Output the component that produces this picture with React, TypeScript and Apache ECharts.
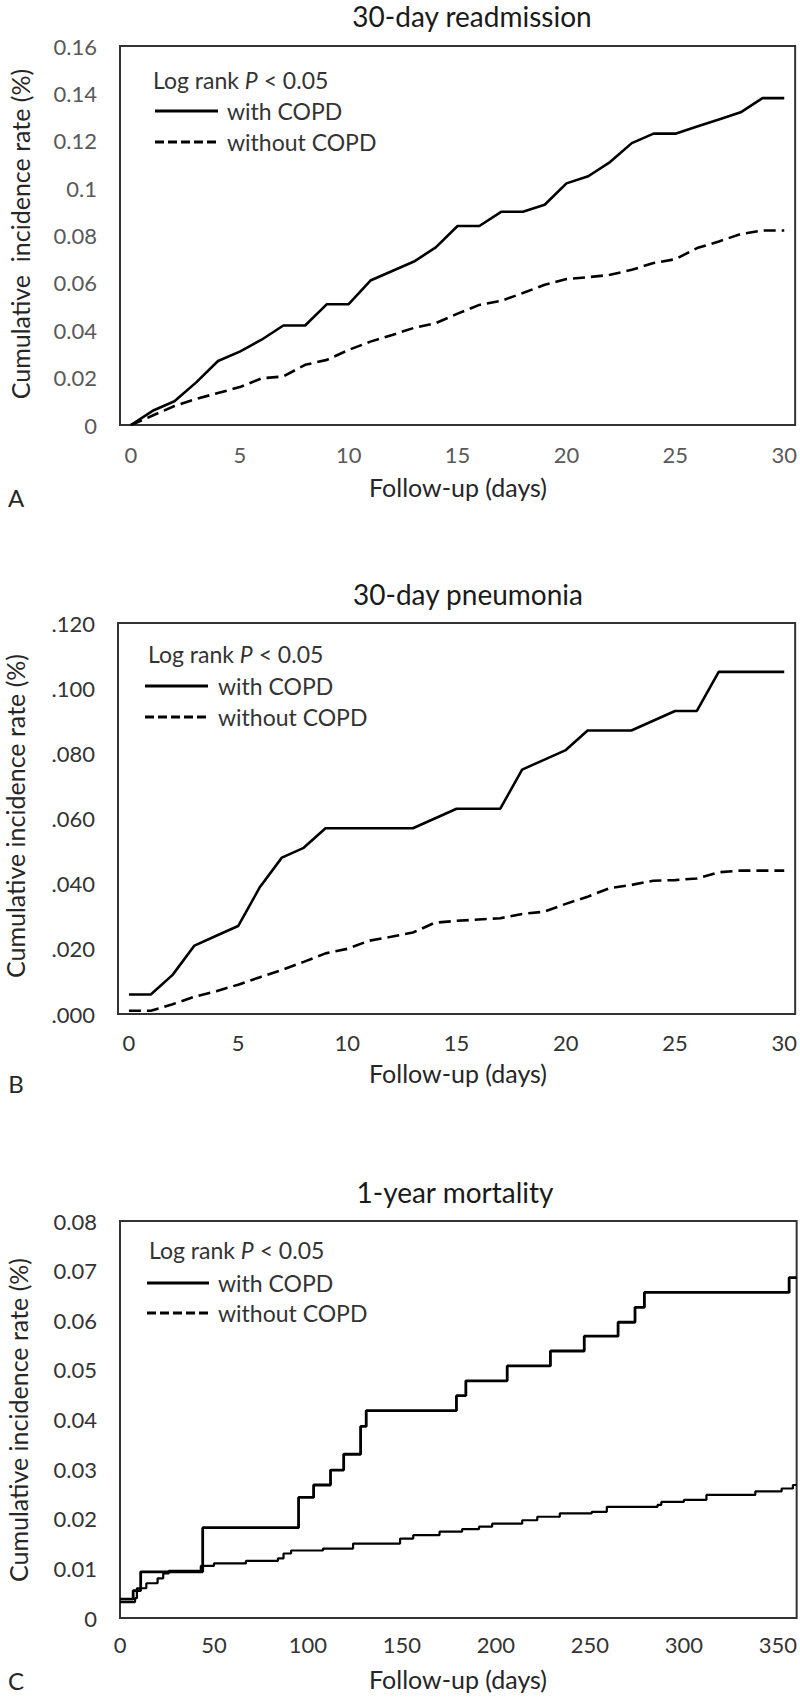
import React, { useEffect, useRef } from "react";
import * as echarts from "echarts";

// ---------- Panel A: 30-day readmission ----------
const daysA = [0, 1, 2, 3, 4, 5, 6, 7, 8, 9, 10, 11, 12, 13, 14, 15, 16, 17, 18, 19, 20, 21, 22, 23, 24, 25, 26, 27, 28, 29, 30];
const withCopdA = [0, 0.006, 0.01, 0.018, 0.027, 0.031, 0.036, 0.042, 0.042, 0.051, 0.051, 0.061, 0.065, 0.069, 0.075, 0.084, 0.084, 0.09, 0.09, 0.093, 0.102, 0.105, 0.111, 0.119, 0.123, 0.123, 0.126, 0.129, 0.132, 0.138, 0.138];
const withoutCopdA = [0, 0.004, 0.008, 0.011, 0.0135, 0.016, 0.0197, 0.0205, 0.0254, 0.0275, 0.0317, 0.0352, 0.038, 0.041, 0.043, 0.047, 0.0507, 0.0524, 0.0557, 0.0592, 0.0616, 0.0624, 0.0634, 0.0655, 0.0684, 0.07, 0.0747, 0.0775, 0.0806, 0.0821, 0.0821];
const xTicksA = [0, 5, 10, 15, 20, 25, 30];

// ---------- Panel B: 30-day pneumonia ----------
const daysB = [0, 1, 2, 3, 4, 5, 6, 7, 8, 9, 10, 11, 12, 13, 14, 15, 16, 17, 18, 19, 20, 21, 22, 23, 24, 25, 26, 27, 28, 29, 30];
const withCopdB = [0.006, 0.006, 0.012, 0.021, 0.024, 0.027, 0.039, 0.048, 0.051, 0.057, 0.057, 0.057, 0.057, 0.057, 0.06, 0.063, 0.063, 0.063, 0.075, 0.078, 0.081, 0.087, 0.087, 0.087, 0.09, 0.093, 0.093, 0.105, 0.105, 0.105, 0.105];
const withoutCopdB = [0.001, 0.001, 0.003, 0.0053, 0.007, 0.009, 0.0113, 0.0135, 0.016, 0.0186, 0.02, 0.0225, 0.0237, 0.025, 0.028, 0.0286, 0.029, 0.0294, 0.0307, 0.0314, 0.0338, 0.036, 0.0386, 0.0396, 0.0409, 0.0411, 0.0416, 0.0435, 0.044, 0.044, 0.044];
const xTicksB = [0, 5, 10, 15, 20, 25, 30];

// ---------- Panel C: 1-year mortality (step curves) ----------
const withCopdDaysC = [0, 7, 11, 44, 95, 103, 112, 119, 128, 131, 179, 184, 206, 229, 247, 265, 274, 279, 356, 360];
const withCopdC = [0.0038, 0.0055, 0.0093, 0.0182, 0.0243, 0.0268, 0.0298, 0.033, 0.0386, 0.0418, 0.0448, 0.0478, 0.0508, 0.0538, 0.0568, 0.0596, 0.0626, 0.0656, 0.0686, 0.0686];
const withoutCopdDaysC = [0, 8, 9, 14, 20, 23, 26, 43, 50, 67, 84, 87, 91, 108, 124, 149, 156, 170, 182, 191, 198, 214, 222, 234, 251, 259, 286, 288, 300, 312, 338, 352, 358, 360];
const withoutCopdC = [0.0032, 0.004, 0.006, 0.007, 0.008, 0.009, 0.0095, 0.0105, 0.011, 0.0115, 0.012, 0.013, 0.0136, 0.014, 0.015, 0.016, 0.0167, 0.0174, 0.0179, 0.0184, 0.019, 0.0197, 0.0204, 0.0211, 0.0214, 0.0224, 0.0228, 0.0234, 0.0238, 0.0248, 0.0255, 0.0261, 0.0268, 0.0268];
const xTicksC = [0, 50, 100, 150, 200, 250, 300, 350];

const titles = ["30-day readmission", "30-day pneumonia", "1-year mortality"];
const yNames = ["Cumulative  incidence rate (%)", "Cumulative incidence rate (%)", "Cumulative incidence rate (%)"];
const xName = "Follow-up (days)";
const panelLetters = ["A", "B", "C"];
const legendTitle = "Log rank {i|P} < 0.05";
const legendNames = ["with COPD", "without COPD"];

const FONT = "Lato, 'Open Sans', sans-serif";

const pair = (xs: number[], ys: number[]) => xs.map((x, i) => [x, ys[i]]);

export default function App() {
  const ref = useRef<HTMLDivElement>(null);

  useEffect(() => {
    const chart = echarts.init(ref.current!, null, { renderer: "svg" });

    const grids = [
      { left: 120, top: 46, width: 676, height: 379 },
      { left: 118, top: 623, width: 680, height: 391 },
      { left: 120, top: 1221, width: 678, height: 397 },
    ];

    const axisCommon = {
      axisLine: { show: false },
      axisTick: { show: false },
      splitLine: { show: false },
    };

    const tickColor = ["#595959", "#333333", "#333333"];

    const xAxes = [
      { min: -0.5, max: 30.5, ticks: xTicksA, margin: 18 },
      { min: -0.5, max: 30.5, ticks: xTicksB, margin: 17 },
      { min: 0, max: 360, ticks: xTicksC, margin: 15 },
    ].map((a, i) => ({
      gridIndex: i,
      type: "value",
      min: a.min,
      max: a.max,
      ...axisCommon,
      axisLabel: {
        customValues: a.ticks,
        margin: a.margin,
        fontSize: 22,
        fontFamily: FONT,
        color: tickColor[i],
      },
    }));

    const fmtA = (v: number) => (v === 0 ? "0" : String(+v.toFixed(2)));
    const fmtB = (v: number) => v.toFixed(3).slice(1);
    const fmtC = (v: number) => (v === 0 ? "0" : String(+v.toFixed(2)));

    const yAxes = [
      { max: 0.16, interval: 0.02, fmt: fmtA },
      { max: 0.12, interval: 0.02, fmt: fmtB },
      { max: 0.08, interval: 0.01, fmt: fmtC },
    ].map((a, i) => ({
      gridIndex: i,
      type: "value",
      min: 0,
      max: a.max,
      interval: a.interval,
      ...axisCommon,
      axisLabel: {
        formatter: a.fmt,
        margin: 23,
        fontSize: 22,
        fontFamily: FONT,
        color: tickColor[i],
      },
    }));

    const solid = { color: "#000", width: 2.6 };
    const dashed = { color: "#000", width: 2.6, type: [12, 6] as number[] };

    const series: any[] = [
      { type: "line", xAxisIndex: 0, yAxisIndex: 0, data: pair(daysA, withCopdA), showSymbol: false, lineStyle: solid },
      { type: "line", xAxisIndex: 0, yAxisIndex: 0, data: pair(daysA, withoutCopdA), showSymbol: false, lineStyle: dashed },
      { type: "line", xAxisIndex: 1, yAxisIndex: 1, data: pair(daysB, withCopdB), showSymbol: false, lineStyle: solid },
      { type: "line", xAxisIndex: 1, yAxisIndex: 1, data: pair(daysB, withoutCopdB), showSymbol: false, lineStyle: dashed },
      { type: "line", xAxisIndex: 2, yAxisIndex: 2, step: "end", data: pair(withCopdDaysC, withCopdC), showSymbol: false, lineStyle: { color: "#000", width: 2.8 } },
      { type: "line", xAxisIndex: 2, yAxisIndex: 2, step: "end", data: pair(withoutCopdDaysC, withoutCopdC), showSymbol: false, lineStyle: { color: "#000", width: 2.2 } },
    ];

    // text layout positions
    const titlePos = [
      [472, 16],
      [468, 594],
      [455, 1192],
    ];
    const yNamePos = [
      [20, 234],
      [15, 816],
      [18, 1420],
    ];
    const xNamePos = [
      [458, 487],
      [458, 1073],
      [458, 1679],
    ];
    const letterPos = [
      [16, 497],
      [16, 1083],
      [16, 1680],
    ];
    const legendPos = [
      { tx: 153, ty: 80, lx0: 155, lx1: 218, y1: 111, y2: 142, nx: 227 },
      { tx: 148, ty: 654, lx0: 145, lx1: 208, y1: 686, y2: 717, nx: 218 },
      { tx: 149, ty: 1250, lx0: 147, lx1: 209, y1: 1283, y2: 1313, nx: 218 },
    ];

    const graphics: any[] = [];
    for (let i = 0; i < 3; i++) {
      graphics.push({
        type: "text",
        style: { text: titles[i], x: titlePos[i][0], y: titlePos[i][1], align: "center", verticalAlign: "middle", fontSize: 28, fontFamily: FONT, fill: "#1a1a1a" },
      });
      graphics.push({
        type: "text",
        x: yNamePos[i][0],
        y: yNamePos[i][1],
        rotation: Math.PI / 2,
        style: { text: yNames[i], x: 0, y: 0, align: "center", verticalAlign: "middle", fontSize: 25, fontFamily: FONT, fill: "#262626" },
      });
      graphics.push({
        type: "text",
        style: { text: xName, x: xNamePos[i][0], y: xNamePos[i][1], align: "center", verticalAlign: "middle", fontSize: 25, fontFamily: FONT, fill: "#262626" },
      });
      graphics.push({
        type: "text",
        style: { text: panelLetters[i], x: letterPos[i][0], y: letterPos[i][1], align: "center", verticalAlign: "middle", fontSize: 24, fontFamily: FONT, fill: "#262626" },
      });
      const lp = legendPos[i];
      graphics.push({
        type: "text",
        style: {
          text: legendTitle,
          x: lp.tx,
          y: lp.ty,
          align: "left",
          verticalAlign: "middle",
          fontSize: 23,
          fontFamily: FONT,
          fill: "#333",
          rich: { i: { fontStyle: "italic", fontSize: 23, fontFamily: FONT, fill: "#333" } },
        },
      });
      graphics.push({
        type: "line",
        shape: { x1: lp.lx0, y1: lp.y1, x2: lp.lx1, y2: lp.y1 },
        style: { stroke: "#000", lineWidth: 3 },
      });
      graphics.push({
        type: "line",
        shape: { x1: lp.lx0, y1: lp.y2, x2: lp.lx1, y2: lp.y2 },
        style: { stroke: "#000", lineWidth: 3, lineDash: [9, 4] },
      });
      graphics.push({
        type: "text",
        style: { text: legendNames[0], x: lp.nx, y: lp.y1, align: "left", verticalAlign: "middle", fontSize: 23, fontFamily: FONT, fill: "#333" },
      });
      graphics.push({
        type: "text",
        style: { text: legendNames[1], x: lp.nx, y: lp.y2, align: "left", verticalAlign: "middle", fontSize: 23, fontFamily: FONT, fill: "#333" },
      });
    }

    chart.setOption({
      animation: false,
      backgroundColor: "#fff",
      textStyle: { fontFamily: FONT },
      grid: grids.map((g) => ({ ...g, show: true, borderColor: "#333", borderWidth: 2, backgroundColor: "transparent" })),
      xAxis: xAxes,
      yAxis: yAxes,
      series,
      graphic: graphics,
    });

    return () => chart.dispose();
  }, []);

  return <div ref={ref} style={{ position: "absolute", left: 0, top: 0, width: 800, height: 1698 }} />;
}
